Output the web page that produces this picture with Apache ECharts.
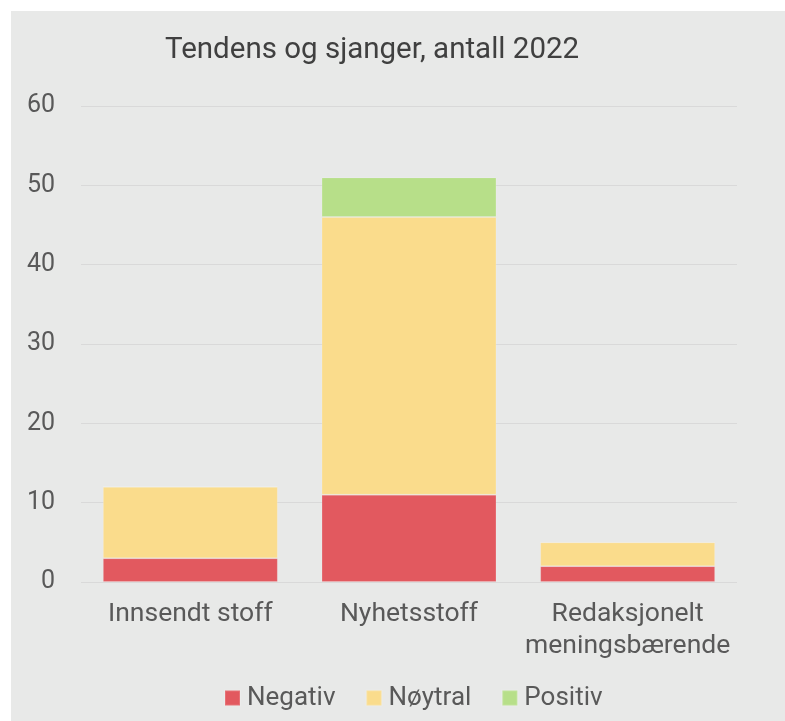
<!DOCTYPE html>
<html><head><meta charset="utf-8">
<script src="https://cdn.jsdelivr.net/npm/echarts@6/dist/echarts.min.js"></script>
<style>html,body{margin:0;padding:0;background:#fff;}#c{width:785px;height:721px;}</style>
</head><body><div id="c"></div>
<script>
const categories = ['Innsendt stoff', 'Nyhetsstoff', 'Redaksjonelt\nmeningsbærende'];
const seriesNames = ['Negativ', 'Nøytral', 'Positiv'];
const negativ = [3, 11, 2];
const noytral = [9, 35, 3];
const positiv = [0, 5, 0];
const yTicks = [0, 10, 20, 30, 40, 50, 60];
const colors = ['#E2595F', '#FADC8C', '#B7DF89'];

const chart = echarts.init(document.getElementById('c'), null, {renderer: 'canvas'});
const values = [negativ, noytral, positiv];
chart.setOption({
  animation: false,
  textStyle: {fontFamily: 'Roboto'},
  graphic: [{type: 'rect', left: 11, top: 11, shape: {width: 774, height: 710}, style: {fill: '#E8E9E8'}, z: -10}],
  title: {text: 'Tendens og sjanger, antall 2022', left: 160, top: 31,
    textStyle: {fontFamily: 'Roboto', fontSize: 29.5, fontWeight: 'normal', color: '#404040'}},
  legend: {left: 224, top: 685, padding: 0, itemWidth: 15, itemHeight: 15, itemGap: 30,
    icon: 'rect', data: seriesNames,
    textStyle: {fontFamily: 'Roboto', fontSize: 26, color: '#595959', padding: [0, 0, 0, 2]}},
  grid: {left: 81, right: 48, top: 106, bottom: 139},
  xAxis: {type: 'category', data: categories,
    axisLine: {show: false}, axisTick: {show: false},
    axisLabel: {fontFamily: 'Roboto', fontSize: 26.5, color: '#595959', margin: 16, lineHeight: 32, interval: 0}},
  yAxis: {type: 'value', min: yTicks[0], max: yTicks[yTicks.length - 1], interval: 10,
    axisLine: {show: false}, axisTick: {show: false},
    axisLabel: {fontFamily: 'Roboto', fontSize: 25, color: '#595959', margin: 26},
    splitLine: {lineStyle: {color: '#D9D9D9', width: 1}}},
  series: seriesNames.map((n, i) => ({
    name: n, type: 'bar', stack: 'total', barWidth: '80%', data: values[i],
    itemStyle: {color: colors[i], borderColor: 'rgba(255,255,255,0.15)', borderWidth: 1}
  }))
});
</script></body></html>
